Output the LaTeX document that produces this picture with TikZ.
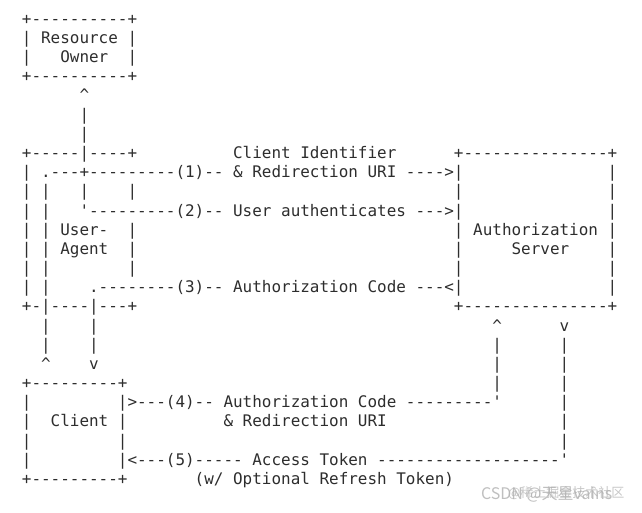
\documentclass[tikz,border=0pt]{standalone}
\usepackage{fontspec}
\newfontfamily\asciimono{DejaVu Sans Mono}
\newfontfamily\cjkwm{Noto Sans CJK SC}
\definecolor{ink}{RGB}{45,45,45}
\definecolor{wm}{RGB}{175,175,175}
\tikzset{
  tx/.style={anchor=base west, inner sep=0pt, outer sep=0pt, text=ink,
             font=\asciimono\fontsize{15.95pt}{15.95pt}\selectfont},
  wmark/.style={anchor=base west, inner sep=0pt, outer sep=0pt, text=wm}
}
\newcommand\T[4]{\node[tx] (#1) at ({21.9pt+9.602pt*#3},{-24.3pt-19.17pt*#2}) {#4};}
\begin{document}
\begin{tikzpicture}
\useasboundingbox (0,0) rectangle (642pt,-512pt);
% Resource Owner
\T{r0a}{0}{0}{+----------+}
\T{r1a}{1}{0}{| Resource |}
\T{r2a}{2}{0}{|}
\T{r2b}{2}{4}{Owner}
\T{r2c}{2}{11}{|}
\T{r3a}{3}{0}{+----------+}
\T{r4a}{4}{6}{\textasciicircum}
\T{r5a}{5}{6}{|}
\T{r6a}{6}{6}{|}
% User-Agent and Authorization Server
\T{r7a}{7}{0}{+-----|----+}
\T{r7b}{7}{22}{Client Identifier}
\T{r7c}{7}{45}{+---------------+}
\T{r8a}{8}{0}{| .---+---------(1)-- \& Redirection URI ---->|}
\T{r8b}{8}{61}{|}
\T{r9a}{9}{0}{| |}
\T{r9b}{9}{6}{|}
\T{r9c}{9}{11}{|}
\T{r9d}{9}{45}{|}
\T{r9e}{9}{61}{|}
\T{r10a}{10}{0}{| |}
\T{r10b}{10}{6}{\textquotesingle---------(2)-- User authenticates --->|}
\T{r10c}{10}{61}{|}
\T{r11a}{11}{0}{| | User-}
\T{r11b}{11}{11}{|}
\T{r11c}{11}{45}{| Authorization |}
\T{r12a}{12}{0}{| | Agent}
\T{r12b}{12}{11}{|}
\T{r12c}{12}{45}{|}
\T{r12d}{12}{51}{Server}
\T{r12e}{12}{61}{|}
\T{r13a}{13}{0}{| |}
\T{r13b}{13}{11}{|}
\T{r13c}{13}{45}{|}
\T{r13d}{13}{61}{|}
\T{r14a}{14}{0}{| |}
\T{r14b}{14}{7}{.--------(3)-- Authorization Code ---<|}
\T{r14c}{14}{61}{|}
\T{r15a}{15}{0}{+-|----|---+}
\T{r15b}{15}{45}{+---------------+}
% links down to Client
\T{r16a}{16}{2}{|}
\T{r16b}{16}{7}{|}
\T{r16c}{16}{49}{\textasciicircum}
\T{r16d}{16}{56}{v}
\T{r17a}{17}{2}{|}
\T{r17b}{17}{7}{|}
\T{r17c}{17}{49}{|}
\T{r17d}{17}{56}{|}
\T{r18a}{18}{2}{\textasciicircum}
\T{r18b}{18}{7}{v}
\T{r18c}{18}{49}{|}
\T{r18d}{18}{56}{|}
% Client
\T{r19a}{19}{0}{+---------+}
\T{r19b}{19}{49}{|}
\T{r19c}{19}{56}{|}
\T{r20a}{20}{0}{|}
\T{r20b}{20}{10}{|>---(4)-- Authorization Code ---------\textquotesingle}
\T{r20c}{20}{56}{|}
\T{r21a}{21}{0}{|}
\T{r21b}{21}{3}{Client |}
\T{r21c}{21}{21}{\& Redirection URI}
\T{r21d}{21}{56}{|}
\T{r22a}{22}{0}{|}
\T{r22b}{22}{10}{|}
\T{r22c}{22}{56}{|}
\T{r23a}{23}{0}{|}
\T{r23b}{23}{10}{|<---(5)----- Access Token -------------------\textquotesingle}
\T{r24a}{24}{0}{+---------+}
\T{r24b}{24}{18}{(w/ Optional Refresh Token)}
% watermark
\node[wmark, font=\cjkwm\fontsize{13pt}{13pt}\selectfont, opacity=0.7] (wm2) at (508pt,-497pt) {@稀土掘金技术社区};
\node[wmark, font=\cjkwm\fontsize{16pt}{16pt}\selectfont, opacity=0.8] (wm1) at (481pt,-499pt) {CSDN @天星vains};
\end{tikzpicture}
\end{document}
